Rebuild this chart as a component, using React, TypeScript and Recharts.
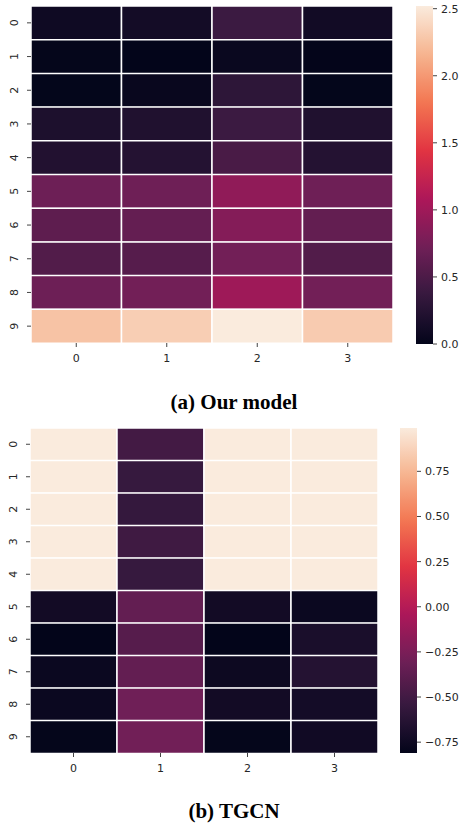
import React from 'react';
import { BarChart, Bar, XAxis, YAxis, Cell } from 'recharts';

// ---------- data ----------
const rowLabels = ['0', '1', '2', '3', '4', '5', '6', '7', '8', '9'];
const colLabels = ['0', '1', '2', '3'];

// (a) Our model : values per column, rows 0..9
const modelCol0 = [0.09, 0.015, 0.01, 0.19, 0.22, 0.7, 0.61, 0.54, 0.7, 2.26];
const modelCol1 = [0.12, 0.0, 0.04, 0.21, 0.24, 0.71, 0.65, 0.56, 0.73, 2.33];
const modelCol2 = [0.4, 0.05, 0.3, 0.4, 0.48, 0.91, 0.84, 0.73, 0.99, 2.52];
const modelCol3 = [0.11, 0.005, 0.01, 0.21, 0.24, 0.71, 0.64, 0.54, 0.73, 2.31];

// (b) TGCN
const tgcnCol0 = [0.99, 0.99, 0.99, 0.99, 0.99, -0.73, -0.81, -0.77, -0.77, -0.8];
const tgcnCol1 = [-0.49, -0.55, -0.56, -0.51, -0.55, -0.35, -0.41, -0.35, -0.3, -0.29];
const tgcnCol2 = [0.99, 0.99, 0.99, 0.99, 0.99, -0.73, -0.81, -0.76, -0.73, -0.8];
const tgcnCol3 = [0.99, 0.99, 0.99, 0.99, 0.99, -0.77, -0.69, -0.64, -0.72, -0.74];

const modelTicks = [0, 0.5, 1, 1.5, 2, 2.5];
const tgcnTicks = [-0.75, -0.5, -0.25, 0, 0.25, 0.5, 0.75];

const captionA = '(a) Our model';
const captionB = '(b) TGCN';

// ---------- colormap (rocket) ----------
const rocketStops: [number, string][] = [
  [0, '#03051a'],
  [0.143, '#35193e'],
  [0.286, '#701f57'],
  [0.429, '#ad1759'],
  [0.571, '#e13342'],
  [0.714, '#f37651'],
  [0.857, '#f6b48f'],
  [1, '#faebdd'],
];
const hex2rgb = (h: string) => [1, 3, 5].map((i) => parseInt(h.slice(i, i + 2), 16));
function rocket(t: number): string {
  const u = Math.max(0, Math.min(1, t));
  for (let i = 0; i < rocketStops.length - 1; i++) {
    const [p0, c0] = rocketStops[i];
    const [p1, c1] = rocketStops[i + 1];
    if (u <= p1) {
      const f = (u - p0) / (p1 - p0);
      const a = hex2rgb(c0);
      const b = hex2rgb(c1);
      const c = a.map((v, k) => Math.round(v + (b[k] - v) * f));
      return `rgb(${c[0]},${c[1]},${c[2]})`;
    }
  }
  return rocketStops[rocketStops.length - 1][1];
}

const FONT = "'DejaVu Sans', sans-serif";
const TXT = '#262626';

const XTick = (props: any) => {
  const { x, y, index } = props;
  return (
    <text x={x} y={y} dy="0.71em" textAnchor="middle" fontSize={11} fontFamily={FONT} fill={TXT}>
      {colLabels[index]}
    </text>
  );
};

const YTick = (props: any) => {
  const { x, y, payload } = props;
  return (
    <text
      transform={`translate(${x - 7},${y}) rotate(-90)`}
      textAnchor="middle"
      fontSize={11}
      fontFamily={FONT}
      fill={TXT}
    >
      {payload.value}
    </text>
  );
};

function Heatmap(props: {
  cols: number[][];
  left: number;
  top: number;
  width: number;
  height: number;
  margin: any;
  yw: number;
}) {
  const { cols, left, top, width, height, margin, yw } = props;
  const all = cols.flat();
  const vmin = Math.min(...all);
  const vmax = Math.max(...all);
  const data = rowLabels.map((r) => {
    const d: any = { row: r };
    colLabels.forEach((_, j) => (d['c' + j] = 1));
    return d;
  });
  return (
    <div style={{ position: 'absolute', left, top }}>
      <BarChart width={width} height={height} data={data} layout="vertical" margin={margin} barCategoryGap={0} barGap={0}>
        <XAxis
          type="number"
          domain={[0, colLabels.length]}
          ticks={colLabels.map((_, j) => j + 0.5)}
          axisLine={false}
          tickLine={{ stroke: '#444' }}
          tickSize={4}
          tickMargin={7}
          tick={<XTick />}
          height={37}
          interval={0}
          allowDataOverflow
        />
        <YAxis
          type="category"
          dataKey="row"
          width={yw}
          axisLine={false}
          tickLine={{ stroke: '#444' }}
          tickSize={4}
          tickMargin={2}
          tick={<YTick />}
          interval={0}
        />
        {colLabels.map((_, j) => (
          <Bar key={j} dataKey={'c' + j} stackId="a" isAnimationActive={false}>
            {cols[j].map((v, i) => (
              <Cell key={i} fill={rocket((v - vmin) / (vmax - vmin))} stroke="#ffffff" strokeWidth={1.5} />
            ))}
          </Bar>
        ))}
      </BarChart>
    </div>
  );
}

function ColorBar(props: {
  cols: number[][];
  ticks: number[];
  digits: number;
  id: string;
  left: number;
  top: number;
  width: number;
  height: number;
  margin: any;
  yw: number;
}) {
  const { cols, ticks, digits, id, left, top, width, height, margin, yw } = props;
  const all = cols.flat();
  const vmin = Math.min(...all);
  const vmax = Math.max(...all);
  const data = [{ k: 'cb', range: [vmin, vmax] }];
  const n = 40;
  const stops = Array.from({ length: n + 1 }, (_, i) => i / n);
  return (
    <div style={{ position: 'absolute', left, top }}>
      <BarChart width={width} height={height} data={data} margin={margin} barCategoryGap={0}>
        <defs>
          <linearGradient id={id} x1="0" y1="1" x2="0" y2="0">
            {stops.map((t) => (
              <stop key={t} offset={t} stopColor={rocket(t)} />
            ))}
          </linearGradient>
        </defs>
        <XAxis dataKey="k" hide />
        <YAxis
          orientation="right"
          type="number"
          domain={[vmin, vmax]}
          ticks={ticks}
          allowDataOverflow
          axisLine={false}
          tickLine={{ stroke: '#444' }}
          tickSize={4}
          tickMargin={4}
          width={yw}
          interval={0}
          tickFormatter={(v: number) => v.toFixed(digits).replace('-', '\u2212')}
          tick={{ fontSize: 11, fontFamily: FONT, fill: TXT }}
        />
        <Bar dataKey="range" fill={`url(#${id})`} isAnimationActive={false} />
      </BarChart>
    </div>
  );
}

export default function App() {
  const modelCols = [modelCol0, modelCol1, modelCol2, modelCol3];
  const tgcnCols = [tgcnCol0, tgcnCol1, tgcnCol2, tgcnCol3];
  return (
    <div style={{ position: 'absolute', left: 0, top: 0, width: 460, height: 827, background: '#fff', overflow: 'hidden' }}>
      <Heatmap cols={modelCols} left={0} top={0} width={400} height={380} margin={{ top: 6, right: 7, left: 0, bottom: 0 }} yw={31} />
      <ColorBar
        cols={modelCols}
        ticks={modelTicks}
        digits={1}
        id="cbA"
        left={410}
        top={0}
        width={50}
        height={350}
        margin={{ top: 6, right: 0, left: 6, bottom: 6 }}
        yw={27}
      />
      <Heatmap cols={tgcnCols} left={0} top={420} width={385} height={370} margin={{ top: 8, right: 7, left: 0, bottom: 0 }} yw={30} />
      <ColorBar
        cols={tgcnCols}
        ticks={tgcnTicks}
        digits={2}
        id="cbB"
        left={394}
        top={420}
        width={66}
        height={341}
        margin={{ top: 8, right: 0, left: 6, bottom: 8 }}
        yw={43}
      />
      <svg width={460} height={827} style={{ position: 'absolute', left: 0, top: 0, pointerEvents: 'none' }}>
        <text x={234} y={409} textAnchor="middle" fontFamily="'Liberation Serif', serif" fontWeight="bold" fontSize={21} fill="#000">
          {captionA}
        </text>
        <text x={234} y={818} textAnchor="middle" fontFamily="'Liberation Serif', serif" fontWeight="bold" fontSize={21} fill="#000">
          {captionB}
        </text>
      </svg>
    </div>
  );
}
